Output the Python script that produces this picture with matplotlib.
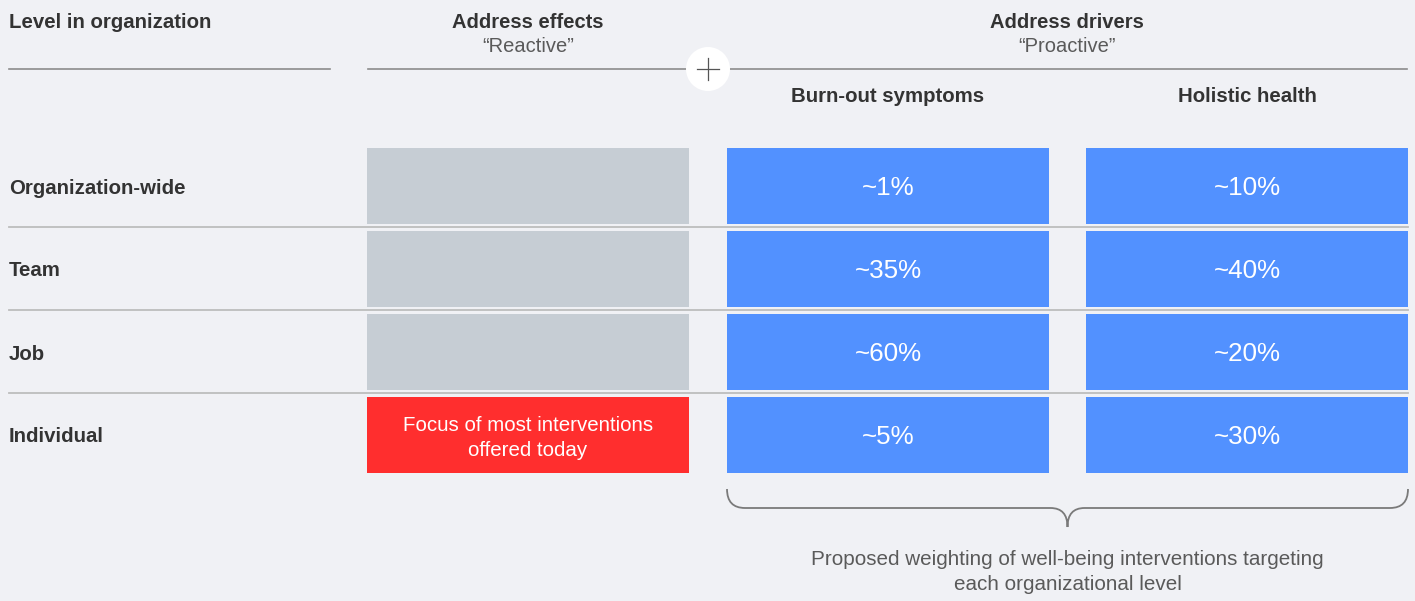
import matplotlib.pyplot as plt
import matplotlib.patches as patches
from matplotlib.path import Path

# data
levels = ["Organization-wide", "Team", "Job", "Individual"]
burnout_pct = [1, 35, 60, 5]
holistic_pct = [10, 40, 20, 30]
reactive_note = "Focus of most interventions\noffered today"
col_titles = ["Address effects", "Address drivers"]
col_subtitles = ["\u201cReactive\u201d", "\u201cProactive\u201d"]
sub_headers = ["Burn-out symptoms", "Holistic health"]
caption = "Proposed weighting of well-being interventions targeting\neach organizational level"

# layout (pixels)
bg = "#F0F1F5"
blue = "#5291FF"
grey_box = "#C6CDD4"
red = "#FF2E2E"
dark = "#333333"
soft = "#5A5A5A"
col_left = [367, 727, 1086]
col_w = 322
row_top = [148, 231, 314, 397]
row_h = 76

bold_font = "Liberation Sans"
light_font = "Liberation Sans"

fig = plt.figure(figsize=(14.15, 6.01), dpi=100, facecolor=bg)
ax = fig.add_axes([0, 0, 1, 1])
ax.set_facecolor(bg)
ax.set_xlim(0, 1415)
ax.set_ylim(601, 0)
ax.axis("off")

# header
ax.text(9, 22, "Level in organization", fontsize=14.7, fontweight="bold",
        family=bold_font, color=dark, ha="left", va="center")
ax.plot([9, 330], [69, 69], color="#8C8C8C", lw=1.2)
ax.plot([368, 1407], [69, 69], color="#8C8C8C", lw=1.2)
ax.add_patch(patches.Circle((708, 69), 22, facecolor="white", edgecolor="none", zorder=3))
ax.plot([697, 719], [69, 69], color="#555555", lw=0.9, zorder=4)
ax.plot([708, 708], [58, 80], color="#555555", lw=0.9, zorder=4)

ax.text(528, 22, col_titles[0], fontsize=14.5, fontweight="bold", family=bold_font,
        color=dark, ha="center", va="center")
ax.text(528, 47, col_subtitles[0], fontsize=14.5, family=light_font,
        color=soft, ha="center", va="center")
ax.text(1067, 22, col_titles[1], fontsize=14.5, fontweight="bold", family=bold_font,
        color=dark, ha="center", va="center")
ax.text(1067, 47, col_subtitles[1], fontsize=14.5, family=light_font,
        color=soft, ha="center", va="center")
for x0, s in zip(col_left[1:], sub_headers):
    ax.text(x0 + col_w / 2, 97, s, fontsize=14.7, fontweight="bold", family=bold_font,
            color=dark, ha="center", va="center")

# rows
for i, lvl in enumerate(levels):
    y0 = row_top[i]
    yc = y0 + row_h / 2
    ax.text(9, yc + 2, lvl, fontsize=14.7, fontweight="bold", family=bold_font,
            color=dark, ha="left", va="center")
    if i > 0:
        ax.plot([9, 1408], [y0 - 4, y0 - 4], color="#BDBDBD", lw=1.3, zorder=1)
    reactive_color = red if i == len(levels) - 1 else grey_box
    ax.barh(yc, col_w, height=row_h, left=col_left[0], color=reactive_color, zorder=2)
    ax.barh(yc, col_w, height=row_h, left=col_left[1], color=blue, zorder=2)
    ax.barh(yc, col_w, height=row_h, left=col_left[2], color=blue, zorder=2)
    ax.text(col_left[1] + col_w / 2, yc + 2, f"~{burnout_pct[i]}%", fontsize=18.7,
            family=light_font, color="white", ha="center", va="center", zorder=3)
    ax.text(col_left[2] + col_w / 2, yc + 2, f"~{holistic_pct[i]}%", fontsize=18.7,
            family=light_font, color="white", ha="center", va="center", zorder=3)

ax.text(col_left[0] + col_w / 2, row_top[3] + row_h / 2 + 3, reactive_note, fontsize=14.8,
        family=light_font, color="white", ha="center", va="center",
        linespacing=1.35, zorder=3)

# brace under proactive columns
bx0 = col_left[1]
bx1 = col_left[2] + col_w
bm = (bx0 + bx1) / 2
ytop, ymid, ytip = 489, 508, 527
verts = [(bx0, ytop), (bx0, ymid), (bx0 + 18, ymid),
         (bm - 17, ymid), (bm, ymid), (bm, ytip),
         (bm, ymid), (bm + 17, ymid),
         (bx1 - 18, ymid), (bx1, ymid), (bx1, ytop)]
codes = [Path.MOVETO, Path.CURVE3, Path.CURVE3,
         Path.LINETO, Path.CURVE3, Path.CURVE3,
         Path.CURVE3, Path.CURVE3,
         Path.LINETO, Path.CURVE3, Path.CURVE3]
ax.add_patch(patches.PathPatch(Path(verts, codes), facecolor="none", edgecolor="#7A7A7A", lw=1.3))

ax.text(bm, 572, caption, fontsize=14.9, family=light_font,
        color=soft, ha="center", va="center", linespacing=1.45)

fig.savefig("out.png", dpi=100, facecolor=bg)
